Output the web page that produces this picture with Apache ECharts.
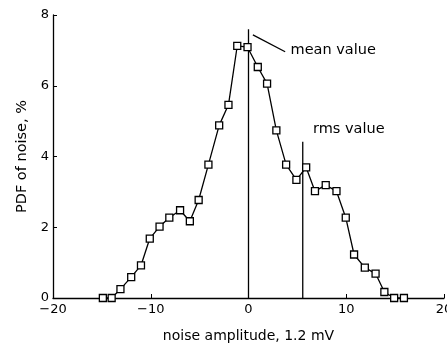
<!DOCTYPE html>
<html><head><meta charset="utf-8">
<script src="https://cdn.jsdelivr.net/npm/echarts@6/dist/echarts.min.js"></script>
<style>html,body{margin:0;padding:0;background:#fff}#c{width:447px;height:345px}</style>
</head><body><div id="c"></div>
<script>
const amplitude = [-14.9,-14.0,-13.1,-12.0,-11.0,-10.1,-9.1,-8.1,-7.0,-6.0,-5.1,-4.1,-3.0,-2.05,-1.15,-0.1,0.95,1.9,2.85,3.85,4.9,5.9,6.8,7.9,9.0,9.95,10.8,11.9,13.0,13.9,14.9,15.9];
const pdf = [0,0,0.25,0.59,0.92,1.68,2.02,2.27,2.48,2.17,2.77,3.77,4.88,5.46,7.13,7.09,6.53,6.06,4.74,3.77,3.34,3.69,3.02,3.19,3.02,2.27,1.23,0.86,0.69,0.17,0,0];
const meanLine = [[0,0],[0,7.6]];
const rmsLine = [[5.55,0],[5.55,4.42]];
const meanLeader = [[0.45,7.44],[3.75,6.96]];
const annotations = [{name:'mean value', x:4.3, y:6.99},{name:'rms value', x:6.6, y:4.76}];
const xTicks = {min:-20,max:20,interval:10};
const yTicks = {min:0,max:8,interval:2};

const font = 'DejaVu Sans';
const chart = echarts.init(document.getElementById('c'));
const lineSeries = (d) => ({type:'line',data:d,symbol:'none',silent:true,lineStyle:{color:'#000',width:1.3},z:1});
chart.setOption({
  animation:false,
  grid:{left:53,right:3,top:15,bottom:47,containLabel:false,outerBoundsMode:'none'},
  xAxis:{type:'value',min:xTicks.min,max:xTicks.max,interval:xTicks.interval,
    name:'noise amplitude, 1.2 mV',nameLocation:'middle',nameGap:31,
    nameTextStyle:{color:'#000',fontFamily:font,fontSize:14},
    axisLine:{show:true,onZero:false,lineStyle:{color:'#000',width:1.3}},
    axisTick:{show:true,inside:true,length:4,lineStyle:{color:'#000'}},
    axisLabel:{color:'#000',fontFamily:font,fontSize:13,margin:5,formatter:v=>String(v).replace('-','\u2212')},
    splitLine:{show:false}},
  yAxis:{type:'value',min:yTicks.min,max:yTicks.max,interval:yTicks.interval,
    name:'PDF of noise, %',nameLocation:'middle',nameGap:23,nameRotate:90,
    nameTextStyle:{color:'#000',fontFamily:font,fontSize:14.5},
    axisLine:{show:true,onZero:false,lineStyle:{color:'#000',width:1.3}},
    axisTick:{show:true,inside:true,length:4,lineStyle:{color:'#000'}},
    axisLabel:{color:'#000',fontFamily:font,fontSize:13,margin:4},
    splitLine:{show:false}},
  series:[
    lineSeries(meanLine),
    lineSeries(rmsLine),
    lineSeries(meanLeader),
    {type:'line',data:amplitude.map((x,i)=>[x,pdf[i]]),symbol:'rect',symbolSize:7,
     showAllSymbol:true,
     itemStyle:{color:'#fff',borderColor:'#000',borderWidth:1.3},
     lineStyle:{color:'#000',width:1.3},z:3},
    {type:'scatter',symbol:'circle',symbolSize:0,silent:true,data:annotations.map(a=>({value:[a.x,a.y],name:a.name})),
     itemStyle:{color:'#000',opacity:1},
     label:{show:true,position:'right',distance:0,formatter:p=>p.name,color:'#000',opacity:1,fontFamily:font,fontSize:14.5},z:4}
  ]
});
</script></body></html>
